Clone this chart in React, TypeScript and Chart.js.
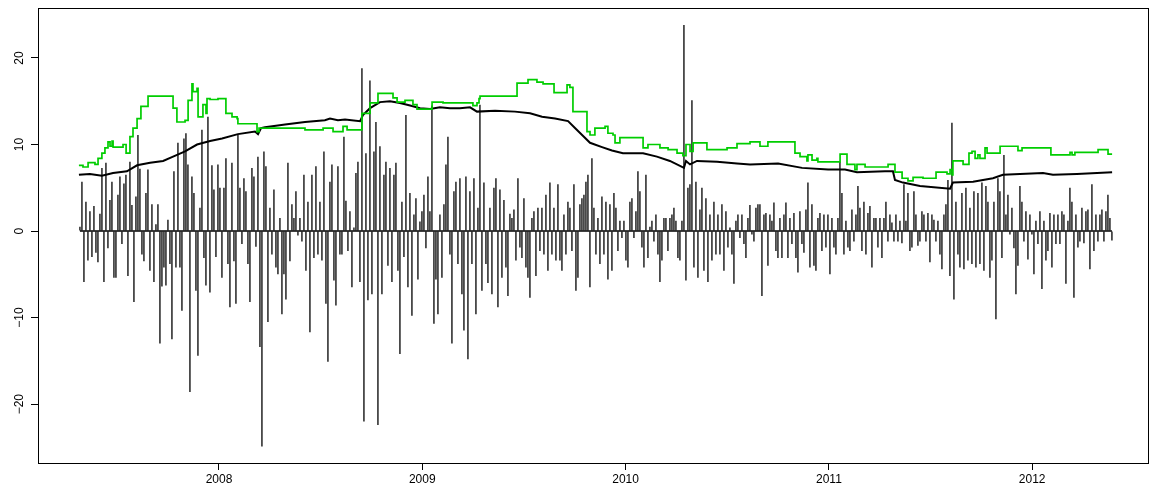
import React, { useEffect, useRef } from "react";
import { Chart, registerables } from "chart.js";

Chart.register(...registerables);

// Axis ticks
const yearTicks = [2008, 2009, 2010, 2011, 2012];
const valueTicks = [-20, -10, 0, 10, 20];

// Daily moves (regular spacing from the first date)
const firstMoveDate = 2007.316;
const moveStep = 0.0098376;

const movesPart1 = [0.5, 5.7, -5.9, 3.4, -3.4, 2.3, -3.0, 2.9, -2.5, -3.6,
  2.0, 7.3, -5.9, 7.9, -2.0, 3.6, 5.7, -5.4, -5.4, 4.2,
  6.3, -1.5, 5.5, 6.5, -5.2, 8.0, 3.0, -8.2, 4.0, 11.1,
  7.2, -2.7, -3.5, 4.4, 7.1, -4.6, 3.1, -5.9, 0.8, 3.1,
  -13.0, -6.4, -4.2, -6.3, 1.3, -3.8, -12.5, 6.9, -4.2, 10.2,
  -4.2, -9.2, 10.7, 11.3, 7.7, -18.6, 6.3, 4.4, -6.9, -14.4,
  2.7, 11.7, -3.1, -6.3, 13.2];
const movesPart2 = [-7.1, 7.6, 4.8, -3.0, 7.7, 5.0, -5.4, 5.0, 8.4, -3.8,
  -8.8, 7.9, -3.5, -8.4, 11.1, 5.0, -1.5, 6.1, 4.6, -3.8,
  -8.2, 7.3, 6.3, -1.8, 8.6, -13.4, -24.9, 9.2, 7.5, -10.5,
  2.7, -2.7, 4.8, -4.2, -5.0, 1.5, -9.6, -5.0, -7.9, 7.9,
  -3.5, 3.1, 1.5, 4.6, -0.5, 1.5, -1.2, 6.5, -4.6, 3.4,
  -11.7, 6.5, -3.1, 7.5, -2.7, 3.4, -3.4, 9.2, -8.4, -15.1,
  5.7, 7.7, -5.7, -8.6, 7.5, -2.7, -2.7, 10.9];
const movesPart3 = [3.5, -2.3, 2.3, -6.5, 0.4, 6.7, 8.0, -5.9, 18.8, -22.0,
  9.0, -8.0, 17.4, -7.3, 9.2, 12.6, -22.4, 9.8, -7.3, 6.5,
  8.0, -4.0, 7.3, -5.9, 6.5, 7.9, -4.6, -14.2, 3.4, -3.0,
  13.4, -6.5, 4.4, -9.8, 1.9, 3.8, -5.6, 1.1, 2.3, 4.2,
  -2.0, 6.3, 2.3, 14.5, -10.7, -5.6, -9.6, 1.9, -5.4, 3.1,
  7.7, 10.9, -2.7, -13.0, 4.6, 5.7, -3.8, 6.1, -7.3, -11.5,
  6.3, -14.8, 4.6, -3.8, 6.1, -9.6, 2.7, 14.6];
const movesPart4 = [-6.9, 5.6, -3.8, -6.0, 2.7, -7.3, 5.0, 6.1, -8.8, 4.8,
  -5.4, 3.6, -4.2, -7.5, 2.0, 1.5, 2.5, -3.4, 6.1, -1.9,
  -3.1, 3.8, -4.2, -5.4, -7.7, 1.5, 2.3, -5.2, 2.7, -2.3,
  2.7, -2.7, 4.2, -4.6, 5.6, -2.7, 2.7, -3.4, 5.4,
  -3.4, -4.6, 1.9, -2.7, 3.4, 2.7, -2.3, 5.4, -6.9, -5.4,
  3.1, 3.8, 4.2, 5.7, 6.5, -6.5, 8.4, 2.7, -2.7, 1.5,
  -3.8, 4.0, -2.7, 3.4, -5.6, 3.1, -4.6, 4.4];
const movesPart5 = [2.7, -2.3, 1.2, -0.8, 1.2, -3.4, -4.2, 3.4, 3.8, -0.8,
  2.3, 6.9, 4.6, -1.9, -4.2, 6.5, -3.1, 0.5, 1.2, -1.2,
  1.9, -2.7, -5.9, -3.4, 1.5, 1.5, -2.3, 1.5, 1.9, 2.7,
  1.2, -3.1, -3.4, 1.2, 23.8, -5.7, 5.0, 5.4, 15.1, -4.2,
  5.7, -5.4, 2.5, 5.0, -4.6, 3.8, -5.9, 1.9, -3.4, 3.4,
  -2.7, 1.9, -2.7, 3.1, -4.6, 2.3, -1.9, 0.4, -2.7, -6.1,
  1.2, 1.9, -0.8, 1.9, -1.5, -3.1, 1.5];
const movesPart6 = [3.0, -0.4, -1.2, 2.7, 3.1, 3.1, -7.5, 1.9, 2.1, -4.0,
  1.9, 1.2, 3.3, -2.3, -3.1, 1.5, -3.1, 1.9, 3.3, -3.1,
  1.5, -1.5, 2.1, -3.1, -4.8, 2.3, -1.5, -2.5, 2.5, 5.6,
  -4.2, 3.1, -4.0, -4.6, 1.5, 2.1, -2.3, 1.9, -1.9, 1.9,
  -5.0, 1.5, -1.9, -2.7, 1.5, 8.0, 4.4, -2.7, 1.2, -1.9,
  -2.3, 2.5, -1.2, 1.9, 5.2, 2.7, -2.3, 3.4, -2.7, 2.1,
  2.9, -4.2, 1.5, 1.5, -1.9, 1.5, -3.1, 1.5];
const movesPart7 = [3.4, -1.2, 1.9, 1.0, -1.2, 1.9, -1.2, 1.2, -1.4, 5.4,
  1.2, 4.4, -2.3, -1.9, 4.6, 1.9, -1.7, -1.2, 2.3, 1.9,
  -1.2, 2.1, -3.6, 1.9, 1.3, -1.2, 1.2, -2.7, -4.4, 1.9,
  3.1, 5.9, -5.2, 12.5, -7.9, 3.4, -2.7, -4.2, 4.4, -4.4,
  5.0, -3.4, 2.7, -3.8, 4.6, -4.2, 4.4, -3.8, 5.6, -4.6,
  5.2, 3.4, -5.4, -3.4, 3.4, -10.2, 6.1, 4.6, -3.1, 8.8,
  1.9, 4.2, -0.4, 2.7, -2.0, -7.3, -4.0];
const movesPart8 = [5.2, 3.4, -1.2, 2.3, -3.3, 1.9, -0.4, -5.0, 1.2, -1.5,
  2.3, -6.7, 1.2, -3.4, -2.3, 2.1, -4.2, 1.9, -1.5, 1.9,
  -1.5, 2.3, 1.9, -6.1, 1.2, 5.0, 3.4, -7.7, 1.9, -1.9,
  -1.2, 2.7, -1.4, 2.3, 2.5, -4.4, 5.4, -2.3, 1.9, -1.2,
  1.9, 2.5, -1.2, 2.3, 4.2, 1.5, -1.1];

// Black smooth line (volatility)
const volDates = [2007.311, 2007.365, 2007.424, 2007.479, 2007.547, 2007.597, 2007.661, 2007.725, 2007.774, 2007.833,
  2007.892, 2007.956, 2008.015, 2008.093, 2008.177, 2008.192, 2008.207, 2008.226, 2008.325, 2008.423,
  2008.521, 2008.546, 2008.585, 2008.620, 2008.694, 2008.708, 2008.743, 2008.792, 2008.841, 2008.890,
  2008.940, 2008.989, 2009.038, 2009.087, 2009.136, 2009.185, 2009.235, 2009.269, 2009.358, 2009.456,
  2009.530, 2009.589, 2009.653, 2009.717, 2009.751, 2009.786, 2009.825, 2009.884, 2009.933, 2009.987,
  2010.086, 2010.154, 2010.218, 2010.287, 2010.297, 2010.317, 2010.351, 2010.450, 2010.548, 2010.612,
  2010.750, 2010.868, 2010.996, 2011.079, 2011.138, 2011.276, 2011.315, 2011.325, 2011.364, 2011.448,
  2011.596, 2011.610, 2011.709, 2011.807, 2011.856, 2011.940, 2012.053, 2012.102, 2012.220, 2012.393];
const volValues = [6.5, 6.6, 6.4, 6.7, 6.9, 7.6, 7.9, 8.1, 8.6, 9.2,
  10.0, 10.4, 10.7, 11.2, 11.5, 11.2, 11.9, 12.0, 12.3, 12.6,
  12.8, 13.0, 12.8, 12.9, 12.7, 13.4, 14.2, 14.9, 15.0, 14.8,
  14.5, 14.2, 14.1, 14.3, 14.2, 14.2, 14.3, 13.8, 13.9, 13.8,
  13.6, 13.2, 13.0, 12.7, 11.9, 11.1, 10.2, 9.7, 9.3, 9.0,
  9.0, 8.6, 8.1, 7.3, 8.1, 7.7, 8.1, 8.0, 7.8, 7.7,
  7.8, 7.3, 7.1, 7.1, 6.8, 6.9, 6.9, 5.9, 5.6, 5.2,
  4.9, 5.6, 5.7, 6.1, 6.5, 6.6, 6.7, 6.5, 6.6, 6.8];

// Green step line (level changes)
const bandDates = [2007.311, 2007.331, 2007.356, 2007.390, 2007.405, 2007.424, 2007.439, 2007.454, 2007.464, 2007.474,
  2007.479, 2007.528, 2007.543, 2007.562, 2007.577, 2007.597, 2007.616, 2007.651, 2007.774, 2007.793,
  2007.833, 2007.848, 2007.867, 2007.872, 2007.892, 2007.897, 2007.921, 2007.936, 2007.941, 2007.956,
  2007.995, 2008.034, 2008.064, 2008.089, 2008.093, 2008.187, 2008.197, 2008.423, 2008.512, 2008.561,
  2008.610, 2008.630, 2008.703, 2008.743, 2008.782, 2008.856, 2008.876, 2008.915, 2008.954, 2008.974,
  2009.048, 2009.102, 2009.249, 2009.269, 2009.279, 2009.284, 2009.466, 2009.520, 2009.564, 2009.594,
  2009.648, 2009.712, 2009.726, 2009.741, 2009.810, 2009.825, 2009.849, 2009.899, 2009.913, 2009.938,
  2009.948, 2009.972, 2010.086, 2010.110, 2010.169, 2010.209, 2010.253, 2010.282, 2010.297, 2010.317,
  2010.332, 2010.400, 2010.499, 2010.548, 2010.612, 2010.661, 2010.700, 2010.833, 2010.858, 2010.892,
  2010.897, 2010.917, 2010.941, 2010.946, 2011.055, 2011.089, 2011.128, 2011.138, 2011.178, 2011.291,
  2011.325, 2011.360, 2011.389, 2011.414, 2011.463, 2011.527, 2011.581, 2011.596, 2011.606, 2011.610,
  2011.660, 2011.689, 2011.704, 2011.719, 2011.733, 2011.743, 2011.768, 2011.778, 2011.842, 2011.930,
  2011.950, 2012.092, 2012.186, 2012.196, 2012.210, 2012.324, 2012.373, 2012.393];
const bandValues = [7.6, 7.4, 7.9, 7.7, 8.4, 9.0, 9.6, 10.3, 9.8, 10.4,
  9.7, 10.0, 9.0, 10.9, 11.9, 13.0, 14.4, 15.6, 14.2, 12.6,
  12.8, 15.1, 17.0, 16.1, 16.5, 13.2, 14.6, 13.6, 15.3, 15.2,
  15.3, 13.6, 13.2, 13.0, 12.4, 11.5, 11.9, 11.7, 11.9, 11.5,
  12.1, 11.7, 13.6, 14.8, 15.9, 15.4, 14.9, 15.1, 14.6, 14.1,
  14.9, 14.8, 14.5, 14.8, 15.3, 15.6, 17.1, 17.5, 17.2, 17.0,
  16.0, 16.9, 16.6, 13.8, 11.5, 11.1, 11.9, 12.1, 11.3, 11.1,
  10.2, 10.8, 9.6, 10.0, 9.6, 9.4, 9.0, 8.7, 10.0, 9.2,
  10.2, 9.4, 9.6, 10.1, 10.3, 9.8, 10.3, 9.0, 8.6, 8.1,
  8.8, 8.2, 8.4, 8.0, 8.9, 7.7, 7.1, 7.7, 7.4, 7.7,
  6.8, 6.1, 5.8, 6.2, 6.1, 6.8, 6.6, 7.1, 6.5, 8.1,
  7.7, 9.0, 9.2, 8.4, 8.8, 8.4, 9.6, 9.0, 9.8, 9.3,
  9.6, 8.8, 9.1, 8.8, 9.1, 9.4, 8.9, 8.9];

const FONT = "'Liberation Sans', Arial, Helvetica, sans-serif";

export default function App() {
  const ref = useRef<HTMLCanvasElement>(null);

  useEffect(() => {
    if (!ref.current) return;
    const moves = [...movesPart1, ...movesPart2, ...movesPart3, ...movesPart4,
      ...movesPart5, ...movesPart6, ...movesPart7, ...movesPart8];
    const movePoints = moves.map((v, i) => ({ x: firstMoveDate + i * moveStep, y: v }));
    const lastMoveDate = firstMoveDate + (moves.length - 1) * moveStep;
    const baseline = [{ x: firstMoveDate, y: 0 }, { x: lastMoveDate, y: 0 }];
    const volPoints = volDates.map((d, i) => ({ x: d, y: volValues[i] }));
    const bandPoints = bandDates.map((d, i) => ({ x: d, y: bandValues[i] }));

    const framePlugin = {
      id: "frame",
      afterDraw(chart: any) {
        const { ctx, chartArea: a } = chart;
        ctx.save();
        ctx.strokeStyle = "#000";
        ctx.lineWidth = 1;
        ctx.strokeRect(Math.round(a.left) + 0.5, Math.round(a.top) + 0.5,
          Math.round(a.right - a.left), Math.round(a.bottom - a.top));
        ctx.restore();
      },
    };

    const chart = new Chart(ref.current, {
      type: "bar",
      data: {
        datasets: [
          {
            type: "line",
            data: bandPoints,
            borderColor: "rgb(0,205,0)",
            borderWidth: 1.7,
            pointRadius: 0,
            stepped: true,
            order: 1,
          } as any,
          {
            type: "line",
            data: volPoints,
            borderColor: "#000",
            borderWidth: 2,
            pointRadius: 0,
            tension: 0,
            order: 2,
          } as any,
          {
            type: "line",
            data: baseline,
            borderColor: "#000",
            borderWidth: 1.5,
            pointRadius: 0,
            order: 3,
          } as any,
          {
            type: "bar",
            data: movePoints,
            backgroundColor: "#000",
            borderWidth: 0,
            barThickness: 1.3,
            inflateAmount: 0,
            order: 4,
          } as any,
        ],
      },
      options: {
        animation: false,
        responsive: false,
        events: [],
        plugins: { legend: { display: false }, tooltip: { enabled: false } },
        layout: { padding: { top: 6, right: 2, left: 0, bottom: 0 } },
        scales: {
          x: {
            type: "linear",
            min: 2007.1097,
            max: 2012.5696,
            offset: false,
            afterBuildTicks: (s: any) => { s.ticks = yearTicks.map((v) => ({ value: v })); },
            afterFit: (s: any) => { s.height = 30; },
            grid: { drawOnChartArea: false, drawTicks: true, tickLength: 7, color: "#000", offset: false },
            border: { display: true, color: "#000" },
            ticks: {
              color: "#000",
              font: { family: FONT, size: 12 },
              padding: 2,
              maxRotation: 0,
              minRotation: 0,
              autoSkip: false,
              callback: (v: any) => String(v),
            },
          },
          y: {
            type: "linear",
            min: -26.8,
            max: 25.75,
            afterBuildTicks: (s: any) => { s.ticks = valueTicks.map((v) => ({ value: v })); },
            afterFit: (s: any) => { s.width = 38; },
            grid: { drawOnChartArea: false, drawTicks: true, tickLength: 7, color: "#000" },
            border: { display: true, color: "#000" },
            ticks: {
              color: "#000",
              font: { family: FONT, size: 12 },
              minRotation: 90,
              maxRotation: 90,
              crossAlign: "center",
              padding: 1,
              autoSkip: false,
              callback: (v: any) => (v < 0 ? "\u2212" + Math.abs(v) : String(v)),
            },
          },
        },
      } as any,
      plugins: [framePlugin],
    });
    return () => chart.destroy();
  }, []);

  return (
    <div style={{ position: "absolute", left: 0, top: 0, width: 1150, height: 493, background: "#fff" }}>
      <canvas ref={ref} width={1150} height={493} style={{ display: "block", width: 1150, height: 493 }} />
    </div>
  );
}
